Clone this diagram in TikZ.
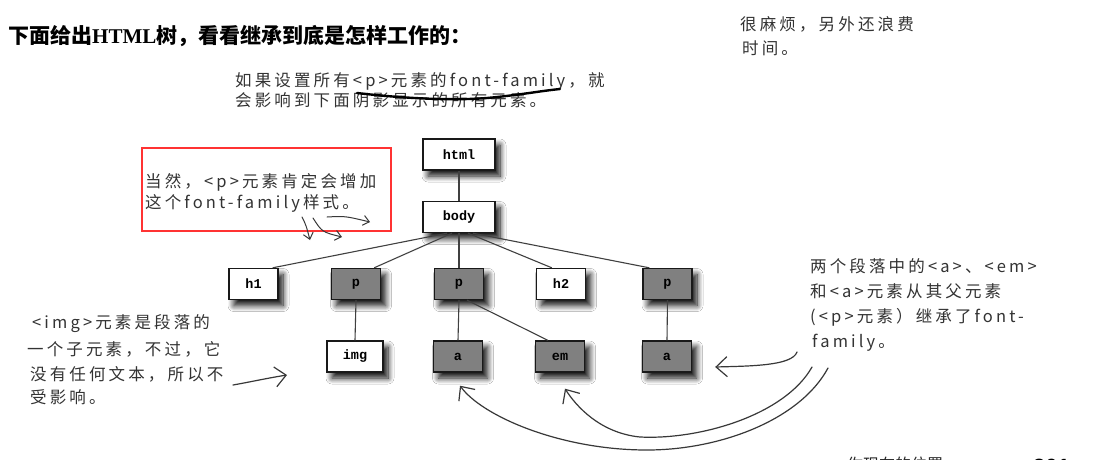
\documentclass[tikz,border=0pt]{standalone}
\usepackage{fontspec}
\usetikzlibrary{calc,arrows.meta,shadows.blur}
\newfontfamily\handfont{Noto Sans CJK SC}[LetterSpace=19]
\newfontfamily\headfont{Noto Sans CJK SC}
\newfontfamily\codefont{Liberation Mono}
\newfontfamily\serifbold{Liberation Serif}
\newfontfamily\numfont{Liberation Sans}
\newfontfamily\symfont{DejaVu Sans}

\tikzset{
  tag/.style={draw=black!90, line width=1.4pt, minimum width=49pt, minimum height=31pt,
    inner sep=0pt, font=\codefont\bfseries\fontsize{13.5}{13.5}\selectfont,
    blur shadow={shadow xshift=5pt, shadow yshift=-6pt, shadow blur radius=6pt,
      shadow blur steps=10, shadow opacity=95}},
  plain/.style={tag, fill=white},
  shaded/.style={tag, fill=black!50},
  wide/.style={minimum width=72pt},
  branch/.style={draw=black!75, line width=1.1pt},
  note/.style={anchor=base west, inner sep=0pt, text=black!80,
    font=\handfont\fontsize{16.5}{16.5}\selectfont},
  pen/.style={draw=black!78, line width=1.2pt, line cap=round,
    -{Straight Barb[length=11pt,width=20pt,line width=1.2pt]}},
  tinypen/.style={draw=black!78, line width=1pt, line cap=round,
    -{Straight Barb[length=6pt,width=10pt,line width=1pt]}},
}

\begin{document}
\begin{tikzpicture}[x=1pt,y=-1pt]
\path[use as bounding box] (0,0) rectangle (1111,459);
\clip (0,0) rectangle (1111,459);
\fill[white] (0,0) rectangle (1111,459);

% heading
\node[anchor=base west, inner sep=0pt, font=\headfont\bfseries\fontsize{21}{21}\selectfont]
  (title) at (8,43) {下面给出{\serifbold\bfseries HTML}树，看看继承到底是怎样工作的：};

% side note, top right
\node[note] (tr1) at (740,30) {很麻烦，另外还浪费};
\node[note] (tr2) at (742,54) {时间。};

% note above the tree
\node[note] (top1) at (235,86) {如果设置所有<p>元素的font-family，就};
\node[note] (top2) at (235,106) {会影响到下面阴影显示的所有元素。};
\draw[black, line width=2.4pt, line cap=round]
  (357,93) .. controls (400,98) and (450,101) .. (487,98)
  .. controls (520,95) and (540,91) .. (560,89);

% boxed note
\draw[red!80!white, line width=2pt] (142,148) rectangle (391,231);
\node[note] (box1) at (145,187) {当然，<p>元素肯定会增加};
\node[note] (box2) at (145,208) {这个font-family样式。};
\draw[tinypen] (302,217) .. controls (306,225) .. (310,240);
\draw[tinypen] (313,218) .. controls (322,232) .. (342,237);
\draw[tinypen] (327,217) .. controls (345,216) .. (370,222);

% tree
\node[plain, wide] (html) at (459,154.5) {html};
\node[plain, wide] (body) at (459,217) {body};
\node[plain]  (h1) at (253.5,284) {h1};
\node[shaded] (p1) at (356,284) {p};
\node[shaded] (p2) at (459,284) {p};
\node[plain]  (h2) at (561,284) {h2};
\node[shaded] (p3) at (667.5,284) {p};
\node[plain, minimum width=56pt] (img) at (355,356.5) {img};
\node[shaded] (a1) at (458,356.5) {a};
\node[shaded] (em) at (560,356.5) {em};
\node[shaded] (a2) at (667,356.5) {a};

\draw[branch] (html.south) -- (body.north);
\draw[branch] ($(body.south)+(-12,0)$) -- ($(h1.north east)+(-6,0)$);
\draw[branch] ($(body.south)+(-7,0)$) -- ($(p1.north east)+(-7,0)$);
\draw[branch] (body.south) -- (p2.north);
\draw[branch] ($(body.south)+(9,0)$) -- ($(h2.north west)+(16,0)$);
\draw[branch] ($(body.south)+(14,0)$) -- ($(p3.north west)+(7,0)$);
\draw[branch] (p1.south) -- (img.north);
\draw[branch] (p2.south) -- (a1.north);
\draw[branch] ($(p2.south)+(8,0)$) -- ($(em.north west)+(13,0)$);
\draw[branch] (p3.south) -- (a2.north);

% note, lower left
\node[note] (ll1) at (32,328) {<img>元素是段落的};
\node[note] (ll2) at (27,355) {一个子元素，不过，它};
\node[note] (ll3) at (30,380) {没有任何文本，所以不};
\node[note] (ll4) at (30,403) {受影响。};
\coordinate (llstart) at (233,385);
\coordinate (lltip) at (287,375);
\draw[pen] (llstart) .. controls (250,382) and (268,378) .. (lltip);

% note, right
\node[note] (rn1) at (810,272) {两个段落中的<a>、<em>};
\node[note] (rn2) at (810,297) {和<a>元素从其父元素};
\node[note] (rn3) at (810,322) {(<p>元素）继承了font-};
\node[note] (rn4) at (812,347) {family。};

\coordinate (s2) at (797,352);
\coordinate (s3) at (812,367);
\coordinate (s4) at (828,368);
\coordinate (t2) at ($(a2.east)+(23,10.5)$);
\coordinate (t3) at ($(em.south)+(5,16)$);
\coordinate (t4) at ($(a1.south)+(2,13)$);
\draw[pen] (s2) .. controls (792,366) and (750,366) .. (t2);
\draw[pen] (s3) .. controls (785,415) and (700,440) .. (640,437)
  .. controls (600,433) and (576,406) .. (t3);
\draw[pen] (s4) .. controls (800,420) and (720,450) .. (647,450)
  .. controls (560,450) and (482,416) .. (t4);

% running foot
\node[anchor=base west, inner sep=0pt, text=black!85, font=\headfont\fontsize{16}{16}\selectfont]
  (foot) at (847,470) {你现在的位置};
\node[anchor=base west, inner sep=0pt, text=black!85, font=\symfont\fontsize{10}{10}\selectfont]
  (footmark) at (968,468) {▶};
\node[anchor=base west, inner sep=0pt, font=\numfont\bfseries\fontsize{22}{22}\selectfont]
  (page) at (1033,474) {301};
\end{tikzpicture}
\end{document}
